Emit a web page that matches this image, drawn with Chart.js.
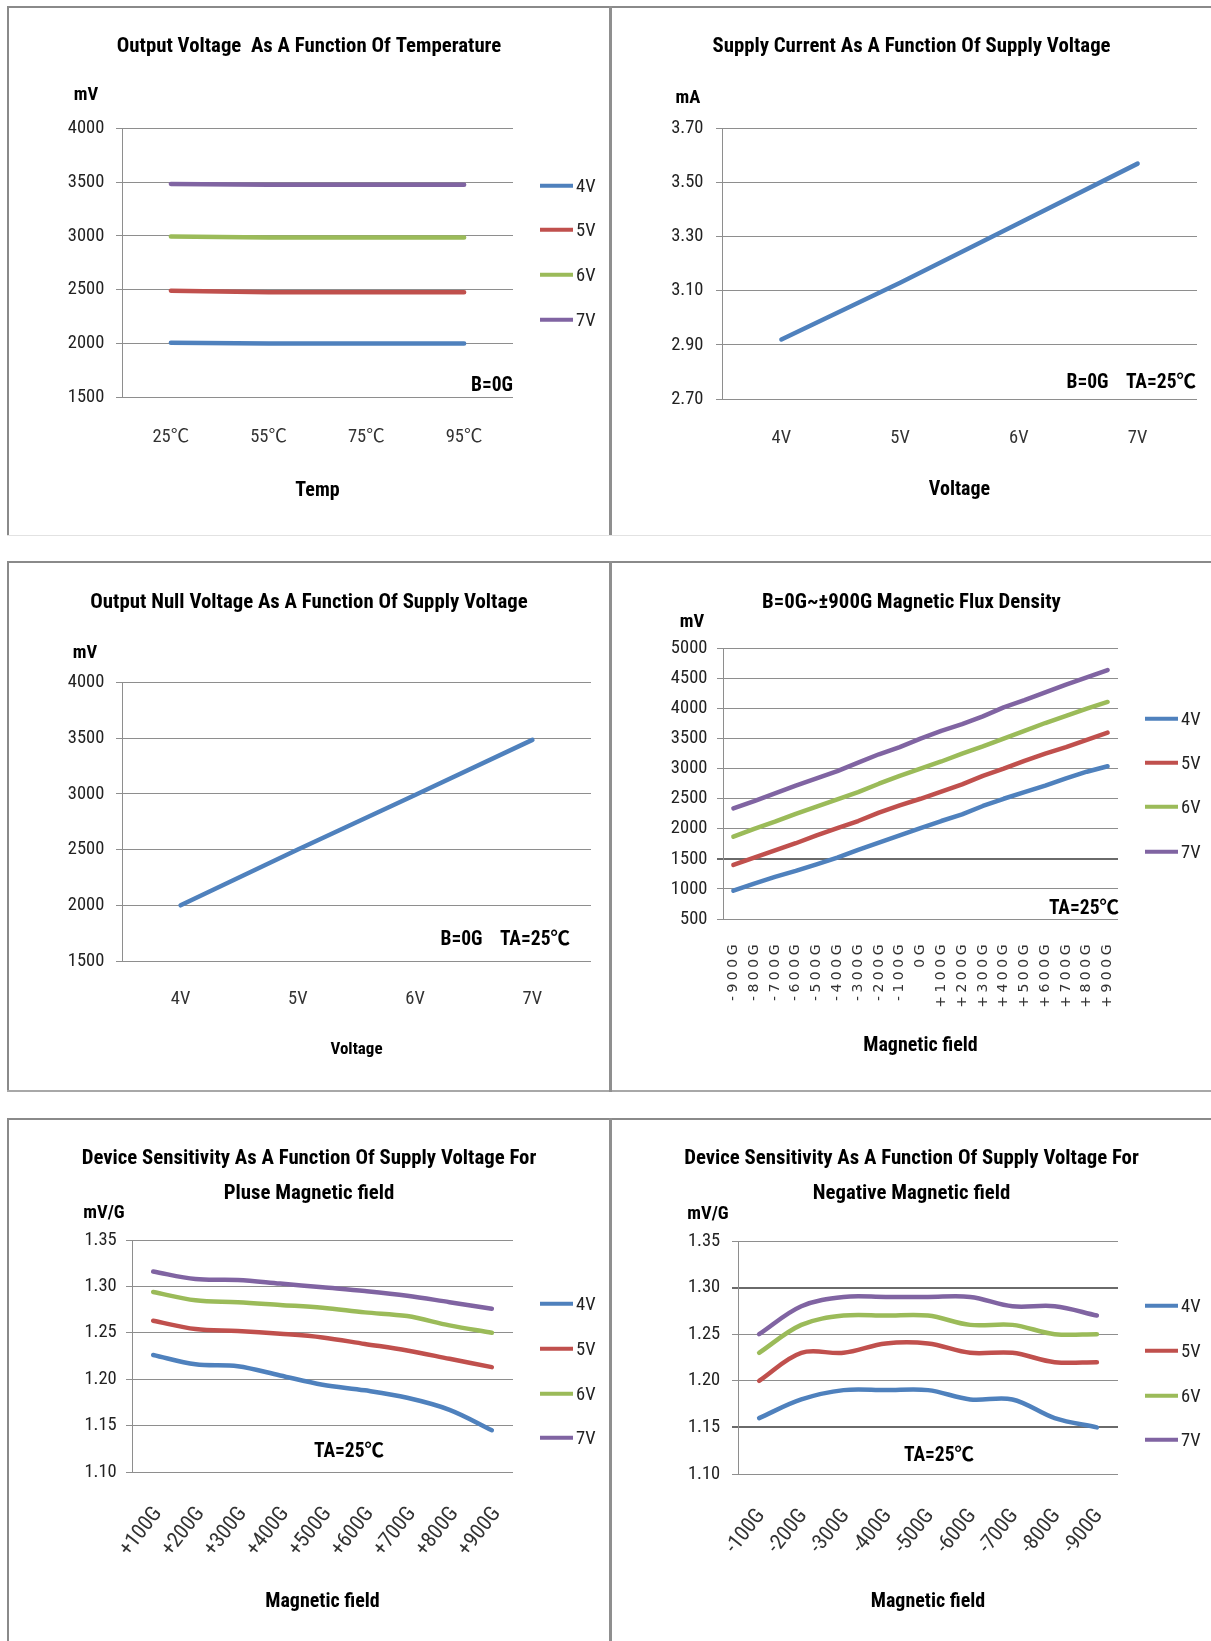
<!DOCTYPE html>
<html><head><meta charset="utf-8">
<script src="https://cdn.jsdelivr.net/npm/chart.js@4.4.1/dist/chart.umd.min.js"></script>
<style>
html,body{margin:0;padding:0;background:#fff;}
body{width:1211px;height:1641px;position:relative;overflow:hidden;font-family:'Roboto Condensed',Carlito,'Noto Sans CJK SC',sans-serif;color:#000;}
.ln{position:absolute;}
canvas{position:absolute;}
.t{position:absolute;white-space:pre;line-height:1;font-weight:bold;font-size:19.5px;}
.u{font-size:18.5px;}
.c{transform:translate(-50%,-50%);}
.r{transform:translate(-100%,-50%);}
.lg{position:absolute;display:flex;align-items:center;transform:translateY(-50%);font-size:18.5px;line-height:1;color:#222;}
.lg i{display:block;width:33px;height:4px;margin-right:3px;}
</style></head>
<body>
<div class="ln" style="left:7px;top:6px;width:1204px;height:2px;background:#8a8a8a"></div>
<div class="ln" style="left:7px;top:6px;width:2px;height:529px;background:#8a8a8a"></div>
<div class="ln" style="left:7px;top:535px;width:1204px;height:1px;background:#e2e2e2"></div>
<div class="ln" style="left:609px;top:6px;width:3px;height:529px;background:#8f8f8f"></div>

<div class="ln" style="left:7px;top:561px;width:1204px;height:2px;background:#8a8a8a"></div>
<div class="ln" style="left:7px;top:561px;width:2px;height:531px;background:#8a8a8a"></div>
<div class="ln" style="left:7px;top:1090px;width:1204px;height:2px;background:#a8a8a8"></div>
<div class="ln" style="left:609px;top:561px;width:3px;height:531px;background:#8f8f8f"></div>

<div class="ln" style="left:7px;top:1118px;width:1204px;height:2px;background:#8a8a8a"></div>
<div class="ln" style="left:7px;top:1118px;width:2px;height:523px;background:#8a8a8a"></div>
<div class="ln" style="left:609px;top:1118px;width:3px;height:523px;background:#8f8f8f"></div>

<canvas id="c1" width="600" height="527" style="left:9px;top:8px"></canvas>
<canvas id="c2" width="599" height="527" style="left:612px;top:8px"></canvas>
<canvas id="c3" width="600" height="528" style="left:9px;top:563px"></canvas>
<canvas id="c4" width="599" height="528" style="left:612px;top:563px"></canvas>
<canvas id="c5" width="600" height="521" style="left:9px;top:1120px"></canvas>
<canvas id="c6" width="599" height="521" style="left:612px;top:1120px"></canvas>

<div class="t u c" style="left:86px;top:94px">mV</div>
<div class="t r" style="left:513px;top:385px">B=0G</div>
<div class="t u c" style="left:688px;top:97px">mA</div>
<div class="t r" style="left:1196px;top:382px">B=0G    TA=25℃</div>
<div class="t u c" style="left:85px;top:652px">mV</div>
<div class="t r" style="left:570px;top:939px">B=0G    TA=25℃</div>
<div class="t u c" style="left:692px;top:621px">mV</div>
<div class="t r" style="left:1119px;top:908px">TA=25℃</div>
<div class="t u c" style="left:104px;top:1212px">mV/G</div>
<div class="t c" style="left:349px;top:1451px">TA=25℃</div>
<div class="t u c" style="left:708px;top:1213px">mV/G</div>
<div class="t c" style="left:939px;top:1455px">TA=25℃</div>

<script>
// ---------- data ----------
const seriesNames = ['4V', '5V', '6V', '7V'];

const tempLabels = ['25℃', '55℃', '75℃', '95℃'];
const tempOut4V = [2005, 1997, 1997, 1997];
const tempOut5V = [2490, 2475, 2475, 2475];
const tempOut6V = [2994, 2984, 2984, 2984];
const tempOut7V = [3484, 3475, 3475, 3475];

const supplyLabels = ['4V', '5V', '6V', '7V'];
const supplyCurrent = [2.92, 3.13, 3.35, 3.57];
const nullVoltage = [2000, 2500, 2990, 3485];

const fluxLabels = ['-900G', '-800G', '-700G', '-600G', '-500G', '-400G', '-300G', '-200G', '-100G', '0G',
  '+100G', '+200G', '+300G', '+400G', '+500G', '+600G', '+700G', '+800G', '+900G'];
const flux4V = [970, 1090, 1200, 1300, 1410, 1520, 1650, 1770, 1890, 2010, 2130, 2240, 2380, 2500, 2610, 2720, 2840, 2950, 3040];
const flux5V = [1400, 1520, 1640, 1760, 1890, 2010, 2130, 2270, 2390, 2500, 2620, 2740, 2880, 3000, 3130, 3250, 3360, 3480, 3600];
const flux6V = [1870, 2000, 2120, 2250, 2370, 2490, 2610, 2750, 2880, 3000, 3120, 3250, 3370, 3500, 3630, 3760, 3880, 4000, 4110];
const flux7V = [2340, 2460, 2590, 2720, 2840, 2960, 3100, 3240, 3360, 3500, 3630, 3740, 3870, 4020, 4140, 4270, 4400, 4520, 4640];

const posLabels = ['+100G', '+200G', '+300G', '+400G', '+500G', '+600G', '+700G', '+800G', '+900G'];
const pos4V = [1.226, 1.216, 1.214, 1.204, 1.194, 1.188, 1.180, 1.167, 1.145];
const pos5V = [1.263, 1.254, 1.252, 1.249, 1.245, 1.238, 1.231, 1.222, 1.213];
const pos6V = [1.294, 1.285, 1.283, 1.280, 1.277, 1.272, 1.268, 1.258, 1.250];
const pos7V = [1.316, 1.308, 1.307, 1.303, 1.299, 1.295, 1.290, 1.283, 1.276];

const negLabels = ['-100G', '-200G', '-300G', '-400G', '-500G', '-600G', '-700G', '-800G', '-900G'];
const neg4V = [1.16, 1.18, 1.19, 1.19, 1.19, 1.18, 1.18, 1.16, 1.15];
const neg5V = [1.20, 1.23, 1.23, 1.24, 1.24, 1.23, 1.23, 1.22, 1.22];
const neg6V = [1.23, 1.26, 1.27, 1.27, 1.27, 1.26, 1.26, 1.25, 1.25];
const neg7V = [1.25, 1.28, 1.29, 1.29, 1.29, 1.29, 1.28, 1.28, 1.27];

// ---------- styling ----------
const FONT = "'Roboto Condensed',Carlito,'Noto Sans CJK SC',sans-serif";
const PALETTE = ['#4F81BD', '#C0504D', '#9BBB59', '#8064A2'];
const GRID = '#8e8e8e';
const GRID_DARK = '#6a6a6a';
const intFmt = v => String(v);
const dec2 = v => Number(v).toFixed(2);

// spaced-out tick labels (drawn after datasets, so only x tick labels get the spacing)
const letterSpacingPlugin = {
  id: 'tickLetterSpacing',
  afterDatasetsDraw(chart, args, opts) { if (opts.spacing) chart.ctx.letterSpacing = opts.spacing; },
  afterDraw(chart) { chart.ctx.letterSpacing = '0px'; }
};

function build(id, o) {
  const datasets = o.series.map((d, i) => ({
    label: seriesNames[i], data: d,
    borderColor: PALETTE[i], backgroundColor: PALETTE[i],
    borderWidth: 4.5, pointRadius: 0, pointHoverRadius: 0,
    tension: o.tension || 0, fill: false, borderJoinStyle: 'round', borderCapStyle: 'round'
  }));
  const dark = o.darkGrid || [];
  const isDark = c => c.tick && dark.some(v => Math.abs(c.tick.value - v) < 1e-6);
  return new Chart(document.getElementById(id), {
    type: 'line',
    data: { labels: o.labels, datasets },
    plugins: [letterSpacingPlugin],
    options: {
      responsive: false, animation: false, devicePixelRatio: 1,
      layout: { padding: 0 },
      events: [],
      plugins: {
        legend: { display: false },
        tooltip: { enabled: false },
        tickLetterSpacing: { spacing: o.xLS || null },
        title: {
          display: true, text: o.title, color: '#000',
          font: { family: FONT, size: 20.8, weight: 'bold', lineHeight: o.titleLH || 1.2 },
          padding: { top: o.tTop, bottom: o.tBot }
        }
      },
      scales: {
        x: {
          type: 'category', offset: true,
          grid: { display: false, drawTicks: false }, border: { display: false },
          ticks: {
            color: '#333', font: o.xFont, padding: o.xPad, autoSkip: false, z: o.xLS ? 1 : 0,
            maxRotation: o.xRot || 0, minRotation: o.xRot || 0, labelOffset: o.xOff || 0
          },
          title: { display: true, text: o.xTitle, color: '#000', font: o.xTitleFont, padding: { top: 0, bottom: o.xTitlePad } },
          afterFit: s => { s.height = o.xH; }
        },
        y: {
          type: 'linear', position: 'left', min: o.yMin, max: o.yMax,
          grid: {
            color: c => isDark(c) ? GRID_DARK : GRID,
            lineWidth: c => isDark(c) ? 2 : 1,
            tickLength: 6, drawTicks: true
          },
          border: { display: true, color: GRID, width: 1 },
          ticks: { stepSize: o.yStep, color: '#222', font: { family: FONT, size: 18.5 }, padding: o.yPad, callback: v => o.yFmt(v) },
          afterFit: s => { s.width = o.yW; }
        },
        yr: {
          type: 'linear', position: 'right', display: true,
          grid: { display: false, drawTicks: false }, border: { display: false }, ticks: { display: false },
          afterFit: s => { s.width = o.yrW; }
        }
      }
    }
  });
}

function htmlLegend(chart, x, ys) {
  chart.data.datasets.forEach((ds, i) => {
    const d = document.createElement('div');
    d.className = 'lg';
    d.style.left = x + 'px';
    d.style.top = ys[i] + 'px';
    const sw = document.createElement('i');
    sw.style.background = ds.borderColor;
    const sp = document.createElement('span');
    sp.textContent = ds.label;
    d.appendChild(sw); d.appendChild(sp);
    document.body.appendChild(d);
  });
}

const xTitleBold = { family: FONT, size: 20, weight: 'bold', lineHeight: 1.2 };
const tickFontX = { family: FONT, size: 18.5, lineHeight: 1.2 };
const tickFontRot = { family: FONT, size: 21.5, lineHeight: 1.2 };

const ch1 = build('c1', {
  labels: tempLabels, series: [tempOut4V, tempOut5V, tempOut6V, tempOut7V],
  title: 'Output Voltage  As A Function Of Temperature', tTop: 26, tBot: 69.5,
  yMin: 1500, yMax: 4000, yStep: 500, yFmt: intFmt, yW: 113, yrW: 96, yPad: 11.7,
  xH: 138, xPad: 29.5, xFont: tickFontX, xTitle: 'Temp', xTitleFont: xTitleBold, xTitlePad: 32.5
});
htmlLegend(ch1, 540, [186, 230, 275, 320]);

build('c2', {
  labels: supplyLabels, series: [supplyCurrent],
  title: 'Supply Current As A Function Of Supply Voltage', tTop: 26, tBot: 69.5,
  yMin: 2.7, yMax: 3.7, yStep: 0.2, yFmt: dec2, yW: 110, yrW: 14, yPad: 12.5,
  xH: 136, xPad: 28.2, xFont: tickFontX, xTitle: 'Voltage', xTitleFont: xTitleBold, xTitlePad: 33.5
});

build('c3', {
  labels: supplyLabels, series: [nullVoltage],
  title: 'Output Null Voltage As A Function Of Supply Voltage', tTop: 27, tBot: 67.5,
  yMin: 1500, yMax: 4000, yStep: 500, yFmt: intFmt, yW: 113, yrW: 18, yPad: 11.7,
  xH: 130, xPad: 27.2, xFont: tickFontX, xTitle: 'Voltage',
  xTitleFont: { family: FONT, size: 17, weight: 'bold', lineHeight: 1.2 }, xTitlePad: 31.5
});

const ch4 = build('c4', {
  labels: fluxLabels, series: [flux4V, flux5V, flux6V, flux7V],
  title: 'B=0G~±900G Magnetic Flux Density', tTop: 27, tBot: 33.5,
  yMin: 500, yMax: 5000, yStep: 500, yFmt: intFmt, yW: 111, yrW: 93, yPad: 9.6, darkGrid: [1500],
  xH: 172, xPad: 22, xRot: 90, xLS: '3.5px',
  xFont: { family: "'DejaVu Sans',sans-serif", size: 14, lineHeight: 1.2 },
  xTitle: 'Magnetic field', xTitleFont: xTitleBold, xTitlePad: 33
});
htmlLegend(ch4, 1145, [719, 763, 807, 852]);

const ch5 = build('c5', {
  labels: posLabels, series: [pos4V, pos5V, pos6V, pos7V], tension: 0.35,
  title: ['Device Sensitivity As A Function Of Supply Voltage For', 'Pluse Magnetic field'], titleLH: '35px',
  tTop: 21.8, tBot: 28.2,
  yMin: 1.10, yMax: 1.35, yStep: 0.05, yFmt: dec2, yW: 123, yrW: 96, yPad: 9.3,
  xH: 169, xPad: 30, xRot: 52, xOff: 5, xFont: tickFontRot,
  xTitle: 'Magnetic field', xTitleFont: xTitleBold, xTitlePad: 27.5
});
htmlLegend(ch5, 540, [1304, 1349, 1394, 1438]);

const ch6 = build('c6', {
  labels: negLabels, series: [neg4V, neg5V, neg6V, neg7V], tension: 0.35,
  title: ['Device Sensitivity As A Function Of Supply Voltage For', 'Negative Magnetic field'], titleLH: '35px',
  tTop: 21.7, tBot: 29.3,
  yMin: 1.10, yMax: 1.35, yStep: 0.05, yFmt: dec2, yW: 126, yrW: 93, yPad: 11.8, darkGrid: [1.30, 1.15],
  xH: 167, xPad: 30, xRot: 52, xOff: 2, xFont: tickFontRot,
  xTitle: 'Magnetic field', xTitleFont: xTitleBold, xTitlePad: 27.5
});
htmlLegend(ch6, 1145, [1306, 1351, 1396, 1440]);
</script>
</body></html>
